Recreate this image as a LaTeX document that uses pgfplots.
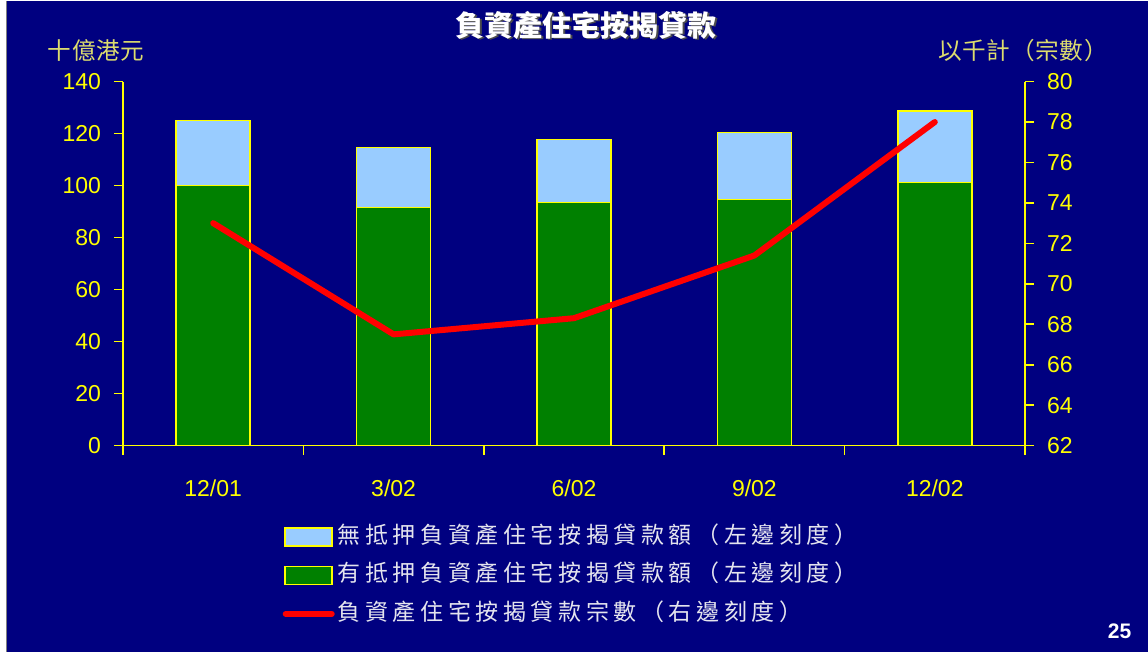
\documentclass[border=0pt]{standalone}
\usepackage{fontspec}
\setmainfont{Liberation Sans}
\newfontfamily\cjk{Noto Sans CJK TC}
\newfontfamily\cjkls[LetterSpace=20]{Noto Sans CJK TC}
\newfontfamily\cjklbl[LetterSpace=3]{Noto Sans CJK TC}
\usepackage{pgfplots}
\pgfplotsset{compat=1.18}
\definecolor{bg}{RGB}{0,0,128}
\definecolor{ltblue}{RGB}{153,204,255}
\definecolor{dgreen}{RGB}{0,128,0}
\definecolor{ylw}{RGB}{255,255,0}
\definecolor{lblylw}{RGB}{220,220,110}
\definecolor{legtxt}{RGB}{228,228,238}
\begin{document}
\begin{tikzpicture}
\fill[bg] (0,0) rectangle (574pt,325.5pt);
\fill[white] (0,0) rectangle (3pt,325.5pt);
\draw[gray,line width=0.6pt] (3.3pt,0) -- (3.3pt,325.5pt);
\useasboundingbox (0,0) rectangle (574pt,325.5pt);
\pgfplotsset{
  common/.style={
    at={(61.5pt,103pt)}, anchor=south west, scale only axis,
    width=451pt, height=182pt,
    xmin=-0.5, xmax=4.5,
    axis line style={ylw, line width=0.8pt, -},
    tick style={ylw, line width=0.8pt},
    tick align=outside,
    major tick length=4.5pt, minor tick length=4.5pt,
    ticklabel style={ylw, font=\fontsize{11.5}{13}\selectfont},
    /pgf/number format/assume math mode=true,
  }
}
\begin{axis}[common,
  ymin=0, ymax=140, ytick={0,20,...,140},
  ybar stacked, bar width=37pt,
  axis x line*=bottom, axis y line*=left,
  xtick={0,...,4}, xticklabels={12/01,3/02,6/02,9/02,12/02},
  major x tick style={draw=none},
  minor xtick={-0.5,0.5,1.5,2.5,3.5,4.5},
  xticklabel style={yshift=-9pt},
  yticklabel style={xshift=-3pt},
]
\addplot[fill=dgreen, draw=ylw, line width=0.8pt] coordinates {(0,100) (1,91.5) (2,93.5) (3,94.6) (4,101.2)};
\addplot[fill=ltblue, draw=ylw, line width=0.8pt] coordinates {(0,25) (1,23.1) (2,24.2) (3,25.8) (4,27.6)};
\end{axis}
\begin{axis}[common,
  ymin=62, ymax=80, ytick={62,64,...,80},
  axis y line*=right, axis x line=none,
  yticklabel style={xshift=3pt},
  legend style={at={(axis description cs:0.170,-0.196)}, anchor=north west,
    draw=none, fill=none, text=legtxt, font=\cjkls\fontsize{11.5}{13}\selectfont,
    cells={anchor=west}, row sep=3.75pt,
    nodes={text height=9.5pt, text depth=3pt, inner sep=1.5pt}},
]
\addlegendimage{legend image code/.code={\draw[fill=ltblue,draw=ylw,line width=0.8pt] (0pt,-4.5pt) rectangle (23.5pt,4.5pt);}}
\addlegendentry{無抵押負資產住宅按揭貸款額（左邊刻度）}
\addlegendimage{legend image code/.code={\draw[fill=dgreen,draw=ylw,line width=0.8pt] (0pt,-4.5pt) rectangle (23.5pt,4.5pt);}}
\addlegendentry{有抵押負資產住宅按揭貸款額（左邊刻度）}
\addplot[red, line width=3pt, line cap=round, line join=round,
  legend image code/.code={\draw[red,line width=3pt,line cap=round] (0.5pt,0pt) -- (23.5pt,0pt);}]
  coordinates {(0,73.0) (1,67.5) (2,68.3) (3,71.4) (4,78.0)};
\addlegendentry{負資產住宅按揭貸款宗數（右邊刻度）}
\end{axis}
\node[text=black!70, font=\cjk\bfseries\fontsize{14.5}{16}\selectfont] at (294pt,312.7pt) {負資產住宅按揭貸款};
\node[text=white, font=\cjk\bfseries\fontsize{14.5}{16}\selectfont] at (293pt,313.2pt) {負資產住宅按揭貸款};
\node[text=lblylw, font=\cjklbl\fontsize{11.8}{13}\selectfont] at (48pt,300.5pt) {十億港元};
\node[text=lblylw, font=\cjklbl\fontsize{11.8}{13}\selectfont] at (511.5pt,300.5pt) {以千計（宗數）};
\node[text=white, font=\bfseries\fontsize{10.5}{12}\selectfont] at (559.75pt,10.25pt) {25};
\end{tikzpicture}
\end{document}
